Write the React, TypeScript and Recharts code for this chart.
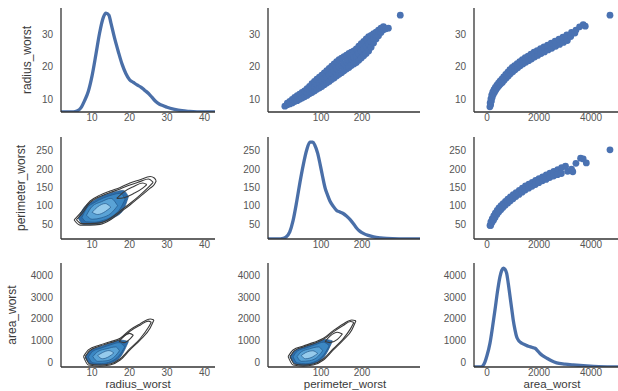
import React from 'react';
import { ComposedChart, Line, Area, Scatter, XAxis, YAxis } from 'recharts';

// ticks for each column (x) and row (y)
const radiusTicks = [10, 20, 30, 40];
const perimeterTicks = [100, 200];
const areaTicks = [0, 2000, 4000];
const radiusYTicks = [10, 20, 30];
const perimeterYTicks = [50, 100, 150, 200, 250];
const areaYTicks = [0, 1000, 2000, 3000, 4000];

const variables = ['radius_worst', 'perimeter_worst', 'area_worst'];

// diagonal densities: [value, relative density]
const radiusKde = [
  [1.7, 0], [5, 0], [6, 0.01], [7, 0.04], [8, 0.11], [9, 0.2], [10, 0.35], [11, 0.55], [12, 0.76],
  [13, 0.91], [13.7, 0.95], [14.5, 0.93], [15, 0.86], [16, 0.71], [17, 0.58], [18, 0.46], [19, 0.37],
  [20, 0.31], [21, 0.285], [22, 0.26], [23, 0.24], [24, 0.21], [25, 0.18], [26, 0.14], [27, 0.1],
  [28, 0.075], [29, 0.06], [30, 0.045], [32, 0.025], [34, 0.012], [36, 0.006], [38, 0.002], [40, 0], [42.8, 0],
];
const perimeterKde = [
  [-29, 0], [0, 0], [5, 0.003], [15, 0.02], [24, 0.07], [32, 0.18], [41, 0.37], [49, 0.56], [57, 0.73],
  [65, 0.87], [73, 0.95], [80, 0.95], [85, 0.92], [92, 0.84], [98, 0.73], [104, 0.61], [110, 0.5],
  [116, 0.43], [122, 0.37], [130, 0.32], [138, 0.28], [146, 0.265], [154, 0.25], [162, 0.225],
  [171, 0.19], [179, 0.15], [187, 0.105], [195, 0.075], [203, 0.055], [215, 0.035], [228, 0.02],
  [245, 0.01], [260, 0.005], [290, 0.001], [341, 0],
];
const areaKde = [
  [-500, 0], [-250, 0], [-150, 0.015], [-77, 0.05], [0, 0.11], [115, 0.23], [210, 0.38], [308, 0.55],
  [400, 0.72], [500, 0.87], [570, 0.93], [630, 0.95], [690, 0.94], [757, 0.9], [820, 0.8], [885, 0.68],
  [950, 0.56], [1010, 0.45], [1075, 0.36], [1140, 0.29], [1230, 0.25], [1330, 0.23], [1460, 0.215],
  [1590, 0.2], [1720, 0.19], [1850, 0.18], [1950, 0.155], [2040, 0.13], [2170, 0.105], [2300, 0.085],
  [2480, 0.06], [2680, 0.04], [3000, 0.028], [3320, 0.02], [3830, 0.01], [4300, 0.004], [5500, 0],
];

// upper scatters: [x, y]
const perimeterRadius = [
  [12, 7.8], [18, 8.2], [18, 8.7], [24, 8.5], [24, 9.3], [30, 8.8], [30, 9.9], [36, 9.2], [36, 10.5],
  [42, 9.5], [42, 11.0], [48, 9.9], [48, 11.5], [54, 10.3], [54, 12.0], [60, 10.7], [60, 12.5],
  [66, 11.1], [66, 12.1], [66, 13.2], [72, 11.6], [72, 12.7], [72, 13.9], [78, 12.0], [78, 13.3], [78, 14.7],
  [84, 12.5], [84, 13.9], [84, 15.4], [90, 13.0], [90, 14.5], [90, 16.1], [96, 13.4], [96, 15.0], [96, 16.7],
  [102, 13.85], [102, 15.6], [102, 17.35], [108, 14.4], [108, 16.2], [108, 18.0], [114, 14.9], [114, 16.8],
  [114, 18.7], [120, 15.4], [120, 17.4], [120, 19.4], [126, 16.0], [126, 18.0], [126, 20.1], [132, 16.5],
  [132, 18.6], [132, 20.8], [138, 17.1], [138, 19.3], [138, 21.5], [144, 17.6], [144, 19.9], [144, 22.1],
  [150, 18.1], [150, 20.3], [150, 22.6], [156, 18.7], [156, 20.9], [156, 23.0], [162, 19.2], [162, 21.3],
  [162, 23.5], [168, 19.7], [168, 21.8], [168, 24.0], [174, 20.3], [174, 22.3], [174, 24.4], [180, 20.8],
  [180, 22.8], [180, 24.8], [186, 21.2], [186, 23.3], [186, 25.4], [192, 21.9], [192, 24.1], [192, 26.3],
  [198, 22.6], [198, 24.8], [198, 27.0], [204, 23.3], [204, 25.5], [204, 27.7], [210, 24.0], [210, 26.2],
  [210, 28.5], [216, 24.8], [216, 27.0], [216, 29.2], [222, 25.9], [222, 27.7], [222, 29.6], [228, 27.2],
  [228, 28.6], [228, 30.1], [234, 28.5], [234, 29.5], [234, 30.6], [240, 29.5], [240, 31.2], [246, 30.5],
  [246, 31.8], [252, 31.3], [252, 32.3], [258, 31.6], [264, 31.8], [293, 35.8],
];
const areaRadius = [
  [110, 7.6], [140, 8.2], [120, 8.8], [170, 9.4], [150, 10.0], [200, 10.5], [180, 11.2], [240, 11.4],
  [220, 12.1], [290, 12.1], [270, 12.9], [340, 12.8], [320, 13.6], [400, 13.5], [380, 14.3], [460, 14.1],
  [440, 14.9], [520, 14.6], [500, 15.5], [590, 15.1], [570, 16.1], [660, 15.8], [640, 16.8], [740, 16.5],
  [720, 17.6], [820, 17.1], [800, 18.3], [900, 17.8], [880, 19.0], [990, 18.4], [970, 19.7], [1080, 19.0],
  [1060, 20.3], [1180, 19.6], [1160, 20.9], [1280, 20.2], [1260, 21.5], [1380, 20.8], [1360, 22.1],
  [1490, 21.3], [1470, 22.7], [1600, 21.8], [1580, 23.2], [1710, 22.3], [1690, 23.8], [1830, 22.9],
  [1810, 24.4], [1950, 23.4], [1930, 24.9], [2080, 24.0], [2060, 25.5], [2210, 24.5], [2190, 26.0],
  [2350, 25.1], [2330, 26.6], [2490, 25.6], [2470, 27.2], [2640, 26.2], [2620, 27.8], [2790, 26.8],
  [2770, 28.4], [2940, 27.4], [2920, 29.0], [3090, 28.0], [3070, 29.7], [3220, 29.2], [3250, 30.5],
  [3380, 30.3], [3420, 31.2], [3560, 32.2], [3700, 32.9], [3780, 32.4], [4730, 35.8],
];
const areaPerimeter = [
  [115, 46], [150, 56], [140, 46], [200, 64], [190, 54], [260, 72], [250, 60], [320, 80], [310, 68],
  [390, 87], [380, 76], [460, 94], [450, 83], [540, 100], [530, 89], [620, 106], [610, 95], [710, 112],
  [700, 101], [800, 118], [790, 107], [900, 124], [890, 113], [1010, 130], [1000, 119], [1120, 136],
  [1110, 125], [1240, 142], [1230, 131], [1360, 148], [1350, 137], [1480, 154], [1470, 143], [1610, 159],
  [1600, 148], [1740, 164], [1730, 153], [1870, 169], [1860, 158], [2000, 174], [1990, 163], [2140, 179],
  [2130, 168], [2280, 184], [2270, 172], [2420, 189], [2410, 177], [2570, 194], [2560, 181], [2720, 199],
  [2710, 185], [2870, 204], [2860, 188], [3020, 208], [3100, 194], [3250, 200], [3300, 193], [3420, 216],
  [3600, 230], [3700, 228], [3820, 217], [4730, 253],
];

// lower kde contours: [x, low, high]
const prOuter = [[5.2, 61, 61], [6.8, 47, 79], [9.5, 47, 113], [12.1, 49, 129], [14.8, 61, 140], [17.5, 82, 150], [20.1, 102, 162], [22.8, 125, 171], [25.5, 148, 180], [26.6, 158, 176], [27.1, 168, 168]];
const prOuter2 = [[5.8, 62, 62], [7.2, 51, 77], [9.5, 51, 109], [12.1, 53, 125], [14.8, 65, 136], [17.5, 86, 146], [20.1, 106, 157], [22.8, 129, 166], [25.0, 150, 173], [26.3, 164, 164]];
const prInner = [[16.6, 120, 120], [18.5, 122, 138], [21, 133, 152], [23.5, 148, 162], [24.6, 158, 158]];
const prFill1 = [[6.3, 66, 66], [7.7, 49, 93], [10.3, 49, 113], [13.0, 55, 128], [15.7, 67, 137], [18.3, 88, 142], [19.7, 125, 125]];
const prFill2 = [[7.3, 68, 68], [8.5, 56, 92], [10.5, 55, 108], [13, 60, 121], [15.5, 72, 130], [17.5, 92, 134], [18.8, 118, 118]];
const prFill3 = [[8.5, 74, 74], [10, 63, 98], [12.5, 67, 111], [15, 79, 120], [16.8, 100, 100]];
const prFill4 = [[10, 82, 82], [11.5, 76, 97], [13.5, 84, 106], [15, 96, 96]];

const raOuter = [[7.7, 250, 250], [9.0, -140, 560], [12.1, -190, 790], [14.8, -140, 940], [17.5, 90, 1100], [20.1, 560, 1490], [22.8, 1020, 1770], [25.5, 1580, 2000], [26.5, 1950, 1950]];
const raOuter2 = [[8.2, 260, 260], [9.3, -90, 520], [12.1, -140, 740], [14.8, -90, 890], [17.5, 150, 1050], [20.1, 620, 1430], [22.8, 1080, 1710], [25.0, 1600, 1900], [25.8, 1850, 1850]];
const raInner = [[17.2, 950, 950], [18.5, 900, 1200], [20, 1050, 1330], [21, 1250, 1250]];
const raFill1 = [[8.1, 220, 220], [9.5, -90, 530], [12.1, -140, 710], [14.8, -60, 870], [17.5, 220, 1020], [19.7, 950, 950]];
const raFill2 = [[9.0, 230, 230], [10.2, -40, 500], [12.5, -70, 650], [15, 20, 800], [17.2, 300, 900], [18.7, 700, 700]];
const raFill3 = [[10.2, 250, 250], [11.5, 30, 480], [14, 60, 620], [16.3, 300, 700], [17.3, 520, 520]];
const raFill4 = [[11.5, 300, 300], [12.7, 150, 430], [14.5, 250, 530], [15.8, 420, 420]];

const paOuter = [[20, 250, 250], [32, -140, 560], [57, -190, 740], [81, -140, 900], [106, 90, 1100], [130, 560, 1460], [154, 1020, 1770], [175, 1490, 1950], [185, 1920, 1920]];
const paOuter2 = [[25, 260, 260], [35, -90, 520], [57, -140, 700], [81, -90, 850], [106, 150, 1050], [130, 620, 1400], [154, 1080, 1700], [172, 1550, 1880], [180, 1830, 1830]];
const paInner = [[110, 950, 950], [122, 900, 1200], [140, 1050, 1380], [152, 1300, 1300]];
const paFill1 = [[24, 230, 230], [37, -90, 530], [61, -160, 710], [85, -60, 870], [110, 300, 1050], [128, 980, 980]];
const paFill2 = [[32, 240, 240], [42, -40, 500], [63, -80, 650], [86, 20, 800], [106, 320, 920], [120, 750, 750]];
const paFill3 = [[42, 250, 250], [52, 30, 470], [72, 60, 610], [94, 280, 700], [104, 520, 520]];
const paFill4 = [[52, 300, 300], [62, 150, 430], [80, 240, 520], [92, 400, 400]];

// layout
const colLeft = [61, 268, 474];
const colWidth = [154, 152, 156];
const rowTop = [8, 137, 263];
const rowHeight = [104, 102, 104];
const xDomains = [[1.7, 42.8], [-29, 341], [-500, 5500]];
const yDomains = [[6, 38], [9, 288], [-233, 4600]];
const xTicks = [radiusTicks, perimeterTicks, areaTicks];
const yTicks = [radiusYTicks, perimeterYTicks, areaYTicks];

const blue = '#4a72b2';
const fills = ['#2d6ca9', '#3b87c3', '#5aa3d6', '#96cbec'];
const tickStyle = { fontSize: 10, fill: '#555' };
const axisStyle = { stroke: '#333', strokeWidth: 1.3 };

const toPoints = (rows: number[][]) => rows.map(([x, y]) => ({ x, y }));
const toRange = (rows: number[][]) => rows.map(([x, lo, hi]) => ({ x, y: [lo, hi] }));

const dot = (p: any) => <circle cx={p.cx} cy={p.cy} r={3.4} fill={blue} />;

function Panel({ row, col, children }: { row: number; col: number; children: React.ReactNode }) {
  return (
    <div style={{ position: 'absolute', left: colLeft[col] - 50, top: rowTop[row] - 6 }}>
      <ComposedChart
        width={colWidth[col] + 52}
        height={rowHeight[row] + 30}
        margin={{ top: 6, right: 2, bottom: 0, left: 0 }}
      >
        <XAxis
          type="number"
          dataKey="x"
          domain={xDomains[col]}
          ticks={xTicks[col]}
          interval={0}
          allowDataOverflow
          tickLine={false}
          tickSize={1}
          tickMargin={1}
          height={24}
          axisLine={axisStyle}
          tick={tickStyle}
        />
        <YAxis
          yAxisId="v"
          type="number"
          dataKey="y"
          domain={yDomains[row]}
          ticks={yTicks[row]}
          interval={0}
          allowDataOverflow
          tickLine={false}
          tickSize={4}
          tickMargin={4}
          width={50}
          axisLine={axisStyle}
          tick={tickStyle}
        />
        {children}
      </ComposedChart>
    </div>
  );
}

// diagonal density drawn on the row's axis, scaled to fill its height
const kdeLine = (rows: number[][], row: number) => {
  const [lo, hi] = yDomains[row];
  const data = rows.map(([x, d]) => ({ x, y: lo + d * (hi - lo) }));
  return (
    <Line
      yAxisId="v"
      data={data}
      dataKey="y"
      type="monotone"
      stroke="#4a6fa8"
      strokeWidth={3.3}
      dot={false}
      activeDot={false}
      isAnimationActive={false}
    />
  );
};

const contours = (fillRows: number[][][], lineRows: number[][][]) => [
  ...fillRows.map((rows, i) => (
    <Area
      key={'f' + i}
      yAxisId="v"
      data={toRange(rows)}
      dataKey="y"
      type="monotone"
      fill={fills[i]}
      fillOpacity={1}
      stroke="#24578a"
      strokeWidth={0.7}
      dot={false}
      activeDot={false}
      isAnimationActive={false}
    />
  )),
  ...lineRows.map((rows, i) => (
    <Area
      key={'c' + i}
      yAxisId="v"
      data={toRange(rows)}
      dataKey="y"
      type="monotone"
      fill="none"
      stroke="#3a3a3a"
      strokeWidth={1.1}
      dot={false}
      activeDot={false}
      isAnimationActive={false}
    />
  )),
];

const scatter = (rows: number[][]) => (
  <Scatter yAxisId="v" data={toPoints(rows)} fill={blue} shape={dot} isAnimationActive={false} />
);

const labelStyle: React.CSSProperties = {
  position: 'absolute',
  fontSize: 11.5,
  lineHeight: '11.5px',
  color: '#3a3a3a',
  whiteSpace: 'nowrap',
};

export default function App() {
  const yLabelX = [28, 22, 13];
  const yLabelY = [60, 188, 315];
  const xLabelX = [138, 345, 552];
  return (
    <div
      style={{
        position: 'absolute',
        left: 0,
        top: 0,
        width: 618,
        height: 391,
        overflow: 'hidden',
        background: '#fff',
        fontFamily: "'Liberation Sans', Arial, sans-serif",
      }}
    >
      <Panel row={0} col={0}>{kdeLine(radiusKde, 0)}</Panel>
      <Panel row={0} col={1}>{scatter(perimeterRadius)}</Panel>
      <Panel row={0} col={2}>{scatter(areaRadius)}</Panel>

      <Panel row={1} col={0}>{contours([prFill1, prFill2, prFill3, prFill4], [prOuter, prOuter2, prInner])}</Panel>
      <Panel row={1} col={1}>{kdeLine(perimeterKde, 1)}</Panel>
      <Panel row={1} col={2}>{scatter(areaPerimeter)}</Panel>

      <Panel row={2} col={0}>{contours([raFill1, raFill2, raFill3, raFill4], [raOuter, raOuter2, raInner])}</Panel>
      <Panel row={2} col={1}>{contours([paFill1, paFill2, paFill3, paFill4], [paOuter, paOuter2, paInner])}</Panel>
      <Panel row={2} col={2}>{kdeLine(areaKde, 2)}</Panel>

      {variables.map((v, i) => (
        <div
          key={'y' + v}
          style={{
            ...labelStyle,
            fontSize: 12,
            left: yLabelX[i],
            top: yLabelY[i],
            transform: 'translate(-50%, -50%) rotate(-90deg)',
          }}
        >
          {v}
        </div>
      ))}
      {variables.map((v, i) => (
        <div
          key={'x' + v}
          style={{ ...labelStyle, left: xLabelX[i], top: 378.5, transform: 'translateX(-50%)' }}
        >
          {v}
        </div>
      ))}
    </div>
  );
}
